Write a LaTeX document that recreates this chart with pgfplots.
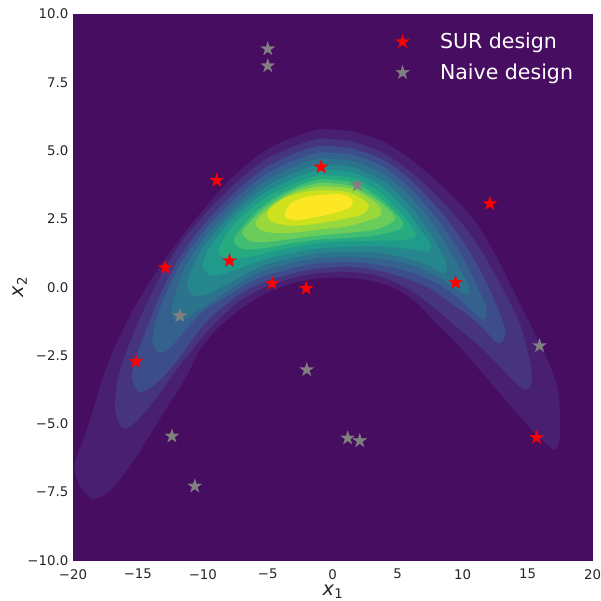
\documentclass[border=0pt]{standalone}
\usepackage{fontspec}
\setmainfont{DejaVu Sans}
\usepackage{pgfplots}
\pgfplotsset{compat=1.18}

% viridis steps for the filled density levels (v0 = lowest band)
\definecolor{v0}{RGB}{71,13,96}
\definecolor{v1}{RGB}{72,31,113}
\definecolor{v2}{RGB}{70,52,126}
\definecolor{v3}{RGB}{61,76,138}
\definecolor{v4}{RGB}{52,97,141}
\definecolor{v5}{RGB}{44,116,142}
\definecolor{v6}{RGB}{37,135,141}
\definecolor{v7}{RGB}{32,154,138}
\definecolor{v8}{RGB}{38,171,129}
\definecolor{v9}{RGB}{64,189,114}
\definecolor{v10}{RGB}{105,204,91}
\definecolor{v11}{RGB}{153,216,61}
\definecolor{v12}{RGB}{205,225,30}
\definecolor{v13}{RGB}{253,231,37}
\definecolor{ticktext}{RGB}{38,38,38}

% filled five-pointed star
\pgfdeclareplotmark{fstar}{%
  \pgfpathmoveto{\pgfpointpolar{90}{\pgfplotmarksize}}%
  \pgfpathlineto{\pgfpointpolar{126}{0.382*\pgfplotmarksize}}%
  \pgfpathlineto{\pgfpointpolar{162}{\pgfplotmarksize}}%
  \pgfpathlineto{\pgfpointpolar{198}{0.382*\pgfplotmarksize}}%
  \pgfpathlineto{\pgfpointpolar{234}{\pgfplotmarksize}}%
  \pgfpathlineto{\pgfpointpolar{270}{0.382*\pgfplotmarksize}}%
  \pgfpathlineto{\pgfpointpolar{306}{\pgfplotmarksize}}%
  \pgfpathlineto{\pgfpointpolar{342}{0.382*\pgfplotmarksize}}%
  \pgfpathlineto{\pgfpointpolar{18}{\pgfplotmarksize}}%
  \pgfpathlineto{\pgfpointpolar{54}{0.382*\pgfplotmarksize}}%
  \pgfpathclose
  \pgfusepathqfillstroke
}

\pgfplotsset{
  level/.style={fill=#1, draw=none, smooth, tension=0.5, forget plot},
}

\begin{document}
\begin{tikzpicture}
\begin{axis}[
  name=ax,
  scale only axis, width=390pt, height=410.25pt,
  xmin=-20, xmax=20, ymin=-10, ymax=10,
  axis background/.style={fill=v0},
  axis line style={draw=none},
  major tick length=0pt,
  xtick={-20,-15,...,20},
  xticklabels={−20,−15,−10,−5,0,5,10,15,20},
  ytick={-10,-7.5,...,10},
  yticklabels={−10.0,−7.5,−5.0,−2.5,0.0,2.5,5.0,7.5,10.0},
  tick label style={font=\fontsize{10}{12}\selectfont, text=ticktext},
  xticklabel style={yshift=-3pt, inner xsep=0pt},
  every axis x label/.style={at={(axis description cs:0.5,-0.057)}, anchor=center, inner sep=0pt},
  every axis y label/.style={at={(axis description cs:-0.102,0.5)}, anchor=center, rotate=90, inner sep=0pt},
  label style={font=\fontsize{14.5}{17}\selectfont, text=ticktext},
  xlabel={\textit{x}\raisebox{-0.3ex}{\fontsize{10}{12}\selectfont 1}},
  ylabel={\textit{x}\raisebox{-0.3ex}{\fontsize{10}{12}\selectfont 2}},
  legend style={draw=none, fill=none, text=white,
    font=\fontsize{15.4}{18}\selectfont,
    at={(rel axis cs:0.613,0.9755)}, anchor=north west,
    row sep=6pt, column sep=21pt},
  legend cell align=left,
  legend image code/.code={\draw[#1] plot coordinates {(0pt,0pt)};},
]

% nested density levels, outermost first
\addplot[level=v1] coordinates {
(-1,5.79) (1.56,5.70) (4.13,5.27) (6.69,4.42) (9.26,3.32) (11.05,2.35) (12.59,1.13) (14.38,-0.58) (15.92,-2.04) (16.95,-3.14) (17.41,-3.99) (17.51,-5.21) (17.33,-5.82) (16.95,-5.92) (15.92,-5.51) (14.38,-4.72) (12.85,-3.87) (11.31,-3.02) (9.77,-2.16) (7.97,-1.31) (6.18,-0.46) (4.13,0.09) (1.56,0.33) (-1,0.33) (-3.05,0.15) (-5.1,-0.21) (-7.15,-0.82) (-8.95,-1.55) (-10.23,-2.29) (-11.26,-3.26) (-12.54,-4.24) (-13.82,-5.21) (-15.1,-6.19) (-16.38,-7.04) (-17.41,-7.55) (-18.56,-7.73) (-19.59,-7.16) (-19.85,-6.43) (-19.2,-5.58) (-18.44,-4.48) (-17.67,-3.26) (-16.64,-2.04) (-15.36,-0.82) (-13.82,0.40) (-12.03,1.61) (-9.97,2.83) (-7.67,4.05) (-5.1,5.03) (-2.54,5.58) (-1,5.79)
};
\addplot[level=v2] coordinates {
(-1,5.45) (1.56,5.33) (4.13,4.85) (6.69,3.95) (9.26,2.71) (11.05,1.62) (12.85,0.15) (14.38,-1.31) (15.15,-2.65) (15.36,-3.38) (15.03,-3.72) (14.38,-3.65) (12.85,-2.89) (11.31,-2.16) (9.77,-1.55) (7.97,-0.82) (5.92,-0.09) (3.62,0.4) (1.56,0.55) (-1,0.52) (-3.0,0.35) (-5.0,0.05) (-7.0,-0.45) (-8.6,-1.1) (-10.0,-1.8) (-11.0,-2.4) (-12.0,-3.0) (-13.2,-3.8) (-14.5,-4.6) (-15.6,-5.1) (-16.3,-5.1) (-16.75,-4.5) (-16.6,-3.5) (-16.0,-2.5) (-14.9,-1.2) (-13.6,0.1) (-12.0,1.4) (-10.0,2.6) (-7.6,3.75) (-5.1,4.7) (-2.5,5.25) (-1,5.45)
};
\addplot[level=v3] coordinates {
(-1,5.18) (1.5,5.08) (4.1,4.6) (6.4,3.75) (8.6,2.6) (10.4,1.4) (11.9,0.1) (12.9,-1.0) (13.3,-1.6) (13.1,-1.98) (12.6,-2.02) (11.8,-1.62) (10.5,-1.05) (9.0,-0.55) (7.5,-0.05) (5.8,0.3) (3.6,0.6) (1.5,0.75) (-1,0.70) (-3.0,0.52) (-5.0,0.25) (-6.8,-0.15) (-8.4,-0.7) (-9.7,-1.25) (-10.8,-1.9) (-12.0,-2.7) (-13.2,-3.35) (-14.3,-3.75) (-15.0,-3.82) (-15.45,-3.3) (-15.1,-2.5) (-14.3,-1.5) (-13.3,-0.3) (-11.9,1.0) (-10.0,2.25) (-7.6,3.45) (-5.1,4.4) (-2.5,4.98) (-1,5.18)
};
\addplot[level=v4] coordinates {
(-1,4.94) (1.5,4.85) (4.0,4.38) (6.2,3.5) (8.2,2.4) (9.9,1.2) (11.1,0.05) (11.8,-0.7) (11.8,-1.08) (11.45,-1.18) (10.7,-0.85) (9.4,-0.3) (8.0,0.15) (6.0,0.55) (3.6,0.82) (1.5,0.92) (-1,0.88) (-3.0,0.7) (-5.0,0.45) (-6.7,0.1) (-8.2,-0.35) (-9.9,-0.85) (-11.0,-1.4) (-12.2,-2.05) (-13.0,-2.38) (-13.5,-2.35) (-13.9,-2.0) (-13.6,-1.2) (-12.9,-0.3) (-11.8,0.8) (-10.0,2.0) (-7.6,3.2) (-5.1,4.15) (-2.5,4.73) (-1,4.94)
};
\addplot[level=v5] coordinates {
(-1,4.72) (1.5,4.62) (4.0,4.12) (6.0,3.3) (7.8,2.25) (9.2,1.15) (10.2,0.3) (10.5,-0.08) (10.3,-0.28) (9.6,-0.08) (8.4,0.3) (6.6,0.72) (4.5,1.0) (2.0,1.1) (-1,1.07) (-3.0,0.9) (-5.0,0.65) (-6.6,0.32) (-8.0,-0.1) (-9.4,-0.55) (-10.8,-1.0) (-11.6,-1.22) (-12.05,-1.2) (-12.4,-0.9) (-12.1,-0.2) (-11.4,0.7) (-9.9,1.8) (-7.6,2.95) (-5.1,3.92) (-2.5,4.5) (-1,4.72)
};
\addplot[level=v6] coordinates {
(-1,4.50) (1.5,4.4) (3.9,3.88) (5.8,3.05) (7.4,2.05) (8.5,1.15) (8.8,0.75) (8.5,0.52) (7.6,0.75) (6.2,1.0) (4.2,1.22) (2.0,1.3) (-1,1.25) (-3.0,1.08) (-5.0,0.85) (-6.6,0.52) (-8.0,0.15) (-9.4,-0.2) (-10.4,-0.32) (-10.85,-0.25) (-11.2,0.05) (-10.9,0.6) (-9.8,1.6) (-7.6,2.75) (-5.1,3.7) (-2.5,4.28) (-1,4.50)
};
\addplot[level=v7] coordinates {
(-1,4.30) (1.5,4.2) (3.8,3.68) (5.6,2.85) (6.9,2.0) (7.55,1.55) (7.3,1.3) (6.2,1.38) (4.2,1.48) (2.0,1.5) (-1,1.43) (-3.0,1.27) (-5.0,1.05) (-6.6,0.8) (-8.0,0.55) (-9.2,0.42) (-9.65,0.5) (-10.0,0.8) (-9.5,1.45) (-7.6,2.55) (-5.1,3.5) (-2.5,4.08) (-1,4.30)
};
\addplot[level=v8] coordinates {
(-1,4.11) (1.5,4.0) (3.6,3.48) (5.3,2.7) (6.3,2.05) (6.25,1.8) (5.0,1.72) (3.0,1.7) (1.0,1.68) (-1,1.62) (-3.0,1.47) (-5.0,1.27) (-6.6,1.1) (-7.8,1.05) (-8.45,1.12) (-8.8,1.38) (-7.5,2.35) (-5.1,3.3) (-2.5,3.88) (-1,4.11)
};
\addplot[level=v9] coordinates {
(-1,3.96) (1.5,3.84) (3.4,3.34) (4.9,2.7) (5.45,2.32) (4.95,2.08) (3.0,1.88) (1.0,1.8) (-1,1.75) (-3.0,1.62) (-5.0,1.45) (-6.5,1.38) (-7.3,1.48) (-7.6,1.78) (-6.4,2.52) (-4.8,3.18) (-2.5,3.74) (-1,3.96)
};
\addplot[level=v10] coordinates {
(-1,3.83) (1.3,3.72) (3.2,3.27) (4.5,2.75) (4.75,2.45) (3.4,2.12) (1.0,1.98) (-1,1.9) (-3.0,1.78) (-5.0,1.66) (-6.3,1.68) (-6.8,1.85) (-6.9,2.08) (-5.6,2.75) (-4.0,3.3) (-2.5,3.64) (-1,3.83)
};
\addplot[level=v11] coordinates {
(-1,3.7) (1.3,3.62) (2.9,3.24) (3.75,2.85) (3.4,2.55) (1.0,2.22) (-1,2.12) (-3.0,2.0) (-4.8,2.0) (-5.7,2.15) (-5.9,2.42) (-4.6,3.02) (-2.8,3.5) (-1,3.7)
};
\addplot[level=v12] coordinates {
(-1,3.55) (1.0,3.5) (2.3,3.22) (2.8,2.95) (2.0,2.62) (-1,2.35) (-3.0,2.25) (-4.4,2.35) (-5.0,2.55) (-4.9,2.85) (-3.7,3.28) (-2.2,3.48) (-1,3.55)
};
\addplot[level=v13] coordinates {
(-1,3.38) (0.6,3.4) (1.5,3.22) (1.3,2.92) (0.0,2.7) (-1.5,2.55) (-2.9,2.45) (-3.7,2.62) (-3.2,3.08) (-2.1,3.3) (-1,3.38)
};

% design points
\addplot[only marks, mark=fstar, mark size=5.4pt, mark options={fill=red, draw=red, line width=0.2pt}] coordinates {
(-15.15,-2.72) (-12.9,0.72) (-8.93,3.91) (-7.95,0.97) (-4.67,0.14) (-2.04,-0.04) (-0.9,4.4) (9.46,0.17) (12.1,3.06) (15.69,-5.50)
};
\addlegendentry{SUR design}
\addplot[only marks, mark=fstar, mark size=5.4pt, mark options={fill=gray, draw=gray, line width=0.2pt}] coordinates {
(-5.0,8.72) (-5.0,8.10) (1.9,3.74) (-11.77,-1.04) (-2.0,-3.02) (15.92,-2.14) (-12.38,-5.45) (1.15,-5.52) (2.08,-5.62) (-10.62,-7.28)
};
\addlegendentry{Naive design}
\end{axis}
\path (ax.south west) ++(-54.75pt,-30pt) coordinate (bl);
\path (ax.north east) ++(0pt,10.5pt) coordinate (tr);
\path (bl) rectangle (tr);
\end{tikzpicture}
\end{document}
